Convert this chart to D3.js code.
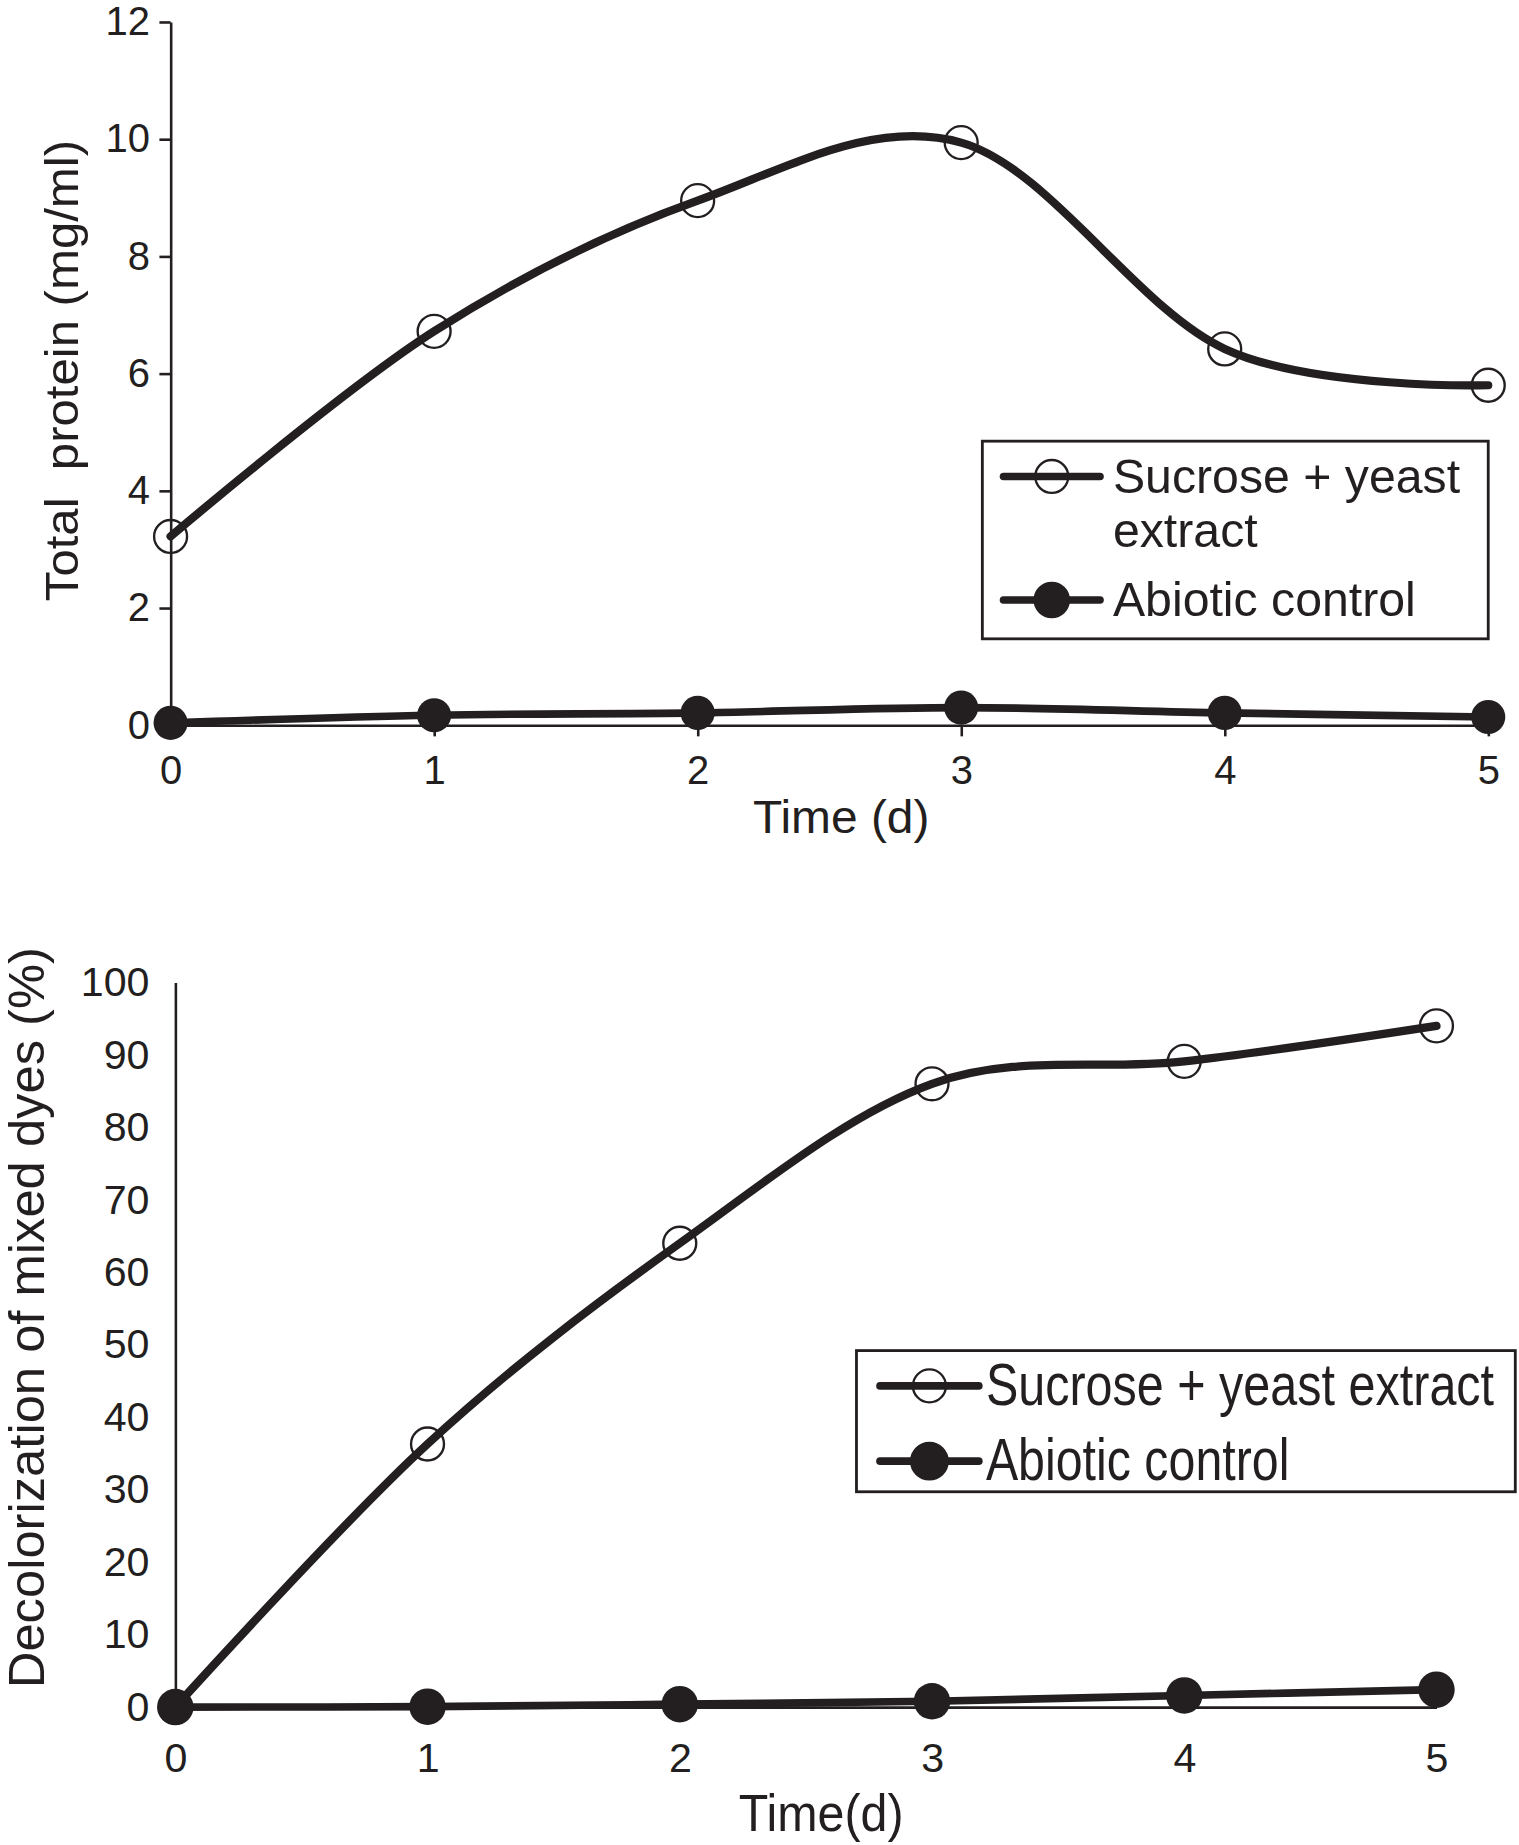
<!DOCTYPE html>
<html>
<head>
<meta charset="utf-8">
<script src="https://cdn.jsdelivr.net/npm/d3@7"></script>
<style>
  body { margin: 0; background: #fff; }
  svg { display: block; }
  text { fill: #231f20; }
</style>
</head>
<body>
<div id="chart"></div>
<script>

// data
var days = [0, 1, 2, 3, 4, 5];
var proteinSucrose = [3.22, 6.72, 8.95, 9.94, 6.42, 5.80];
var proteinAbiotic = [0.04, 0.17, 0.21, 0.30, 0.21, 0.14];
var decolSucrose = [0, 36.3, 64.0, 86.0, 89.1, 94.0];
var decolAbiotic = [0, 0.05, 0.4, 0.8, 1.6, 2.4];
var proteinTicks = [0, 2, 4, 6, 8, 10, 12];
var decolTicks = [0, 10, 20, 30, 40, 50, 60, 70, 80, 90, 100];
var seriesNames = ["Sucrose + yeast extract", "Abiotic control"];

var width = 1519;
var height = 1845;
var ink = "#231f20";
var font = "'Liberation Sans', Arial, Helvetica, sans-serif";

// drawn in the 0.85-scaled space of the source figure
var svg = d3.select("#chart")
    .append("svg")
        .attr("width", width)
        .attr("height", height)
        .attr("viewBox", "0 0 " + (width * 0.85) + " " + (height * 0.85))
        .style("font-family", font)
        ;

var smooth = d3.curveCardinal.tension(0);

// condensed text: squeeze a regular face horizontally to a target width
function squeezed(parent, str, x, y, size, target, anchor) {
    var g = parent.append("g");
    var t = g.append("text")
        .style("font-size", size + "px")
        .attr("text-anchor", anchor || "start")
        .text(str);
    var k = target / t.node().getComputedTextLength();
    g.attr("transform", "translate(" + x + "," + y + ") scale(" + k + ",1)");
    return g;
}

function drawPanel(g, opt) {
    var x = d3.scaleLinear().domain([0, 5]).range([opt.x0, opt.x1]);
    var y = d3.scaleLinear().domain(opt.yDomain).range([opt.yBottom, opt.yTop]);

    var xAxis = d3.axisBottom(x)
        .tickValues(days)
        .tickFormat(d3.format("d"))
        .tickSize(opt.tick)
        .tickSizeOuter(0)
        .tickPadding(opt.xPad);

    var yAxis = d3.axisLeft(y)
        .tickValues(opt.yTicks)
        .tickFormat(d3.format("d"))
        .tickSize(opt.tick)
        .tickSizeOuter(0)
        .tickPadding(opt.yPad);

    var gx = g.append("g")
        .attr("transform", "translate(0," + opt.yBottom + ")")
        .call(xAxis);
    var gy = g.append("g")
        .attr("transform", "translate(" + opt.x0 + ",0)")
        .call(yAxis);

    [gx, gy].forEach(function(a) {
        a.select(".domain").attr("stroke", ink).attr("stroke-width", 2.2);
        a.selectAll(".tick line").attr("stroke", ink).attr("stroke-width", 2.2);
        a.selectAll(".tick text")
            .attr("fill", ink)
            .style("font-family", font)
            .style("font-size", opt.tickFont + "px");
    });

    // axis titles
    if (opt.xTitleNarrow) {
        squeezed(g, opt.xTitle, opt.xTitleX, opt.xTitleY, opt.titleFont, opt.xTitleLen, "middle");
    } else {
        g.append("text")
            .attr("x", opt.xTitleX)
            .attr("y", opt.xTitleY)
            .attr("text-anchor", "middle")
            .style("font-size", opt.titleFont + "px")
            .attr("textLength", opt.xTitleLen)
            .attr("lengthAdjust", "spacingAndGlyphs")
            .text(opt.xTitle);
    }

    g.append("text")
        .attr("transform", "translate(" + opt.yTitleX + "," + opt.yTitleY + ") rotate(-90)")
        .attr("text-anchor", "middle")
        .style("font-size", opt.yTitleFont + "px")
        .attr("textLength", opt.yTitleLen)
        .attr("lengthAdjust", "spacingAndGlyphs")
        .text(opt.yTitle);

    var line = d3.line()
        .x(function(d, i) { return x(days[i]); })
        .y(function(d) { return y(d); })
        .curve(smooth);

    // abiotic control
    g.append("path")
        .datum(opt.abiotic)
        .attr("fill", "none")
        .attr("stroke", ink)
        .attr("stroke-width", 6.5)
        .attr("stroke-linejoin", "round")
        .attr("d", line);

    g.selectAll("circle.abiotic")
        .data(opt.abiotic)
      .enter().append("circle")
        .attr("class", "abiotic")
        .attr("cx", function(d, i) { return x(days[i]); })
        .attr("cy", function(d) { return y(d); })
        .attr("r", opt.rFill)
        .attr("fill", ink);

    // sucrose + yeast extract
    g.append("path")
        .datum(opt.sucrose)
        .attr("fill", "none")
        .attr("stroke", ink)
        .attr("stroke-width", 7)
        .attr("stroke-linecap", "round")
        .attr("d", line);

    g.selectAll("circle.sucrose")
        .data(opt.sucrose)
      .enter().append("circle")
        .attr("class", "sucrose")
        .attr("cx", function(d, i) { return x(days[i]); })
        .attr("cy", function(d) { return y(d); })
        .attr("r", opt.rOpen)
        .attr("fill", "none")
        .attr("stroke", ink)
        .attr("stroke-width", 2);

    // legend
    var lg = g.append("g");
    lg.append("rect")
        .attr("x", opt.legend.x)
        .attr("y", opt.legend.y)
        .attr("width", opt.legend.w)
        .attr("height", opt.legend.h)
        .attr("fill", "#fff")
        .attr("stroke", ink)
        .attr("stroke-width", 2.4);

    seriesNames.forEach(function(name, i) {
        var ly = opt.legend.rows[i];
        var lx0 = opt.legend.x + opt.legend.lineIn;
        var lx1 = lx0 + opt.legend.lineLen;
        lg.append("line")
            .attr("x1", lx0).attr("x2", lx1)
            .attr("y1", ly).attr("y2", ly)
            .attr("stroke", ink)
            .attr("stroke-width", 6.5)
            .attr("stroke-linecap", "round");
        lg.append("circle")
            .attr("cx", (lx0 + lx1) / 2)
            .attr("cy", ly)
            .attr("r", i == 0 ? opt.rOpen : opt.rFill)
            .attr("fill", i == 0 ? "none" : ink)
            .attr("stroke", ink)
            .attr("stroke-width", 2);

        var lines = opt.legend.wrap[i];
        lines.forEach(function(t, k) {
            var tx = lx1 + opt.legend.gap;
            var ty = ly + opt.legend.baseDy + k * opt.legend.lineH;
            if (opt.legend.lens) {
                squeezed(lg, t, tx, ty, opt.legend.font, opt.legend.lens[i]);
            } else {
                lg.append("text")
                    .attr("x", tx)
                    .attr("y", ty)
                    .style("font-size", opt.legend.font + "px")
                    .text(t);
            }
        });
    });
}

// top panel: total protein
drawPanel(svg.append("g"), {
    x0: 145, x1: 1265,
    yTop: 18.6, yBottom: 616.4,
    yDomain: [0, 12],
    yTicks: proteinTicks,
    sucrose: proteinSucrose,
    abiotic: proteinAbiotic,
    tick: 9.5, xPad: 16, yPad: 8,
    tickFont: 34,
    titleFont: 40, yTitleFont: 40,
    xTitle: "Time (d)", xTitleX: 715, xTitleY: 708, xTitleLen: 150, xTitleNarrow: false,
    yTitle: "Total\u00a0 protein (mg/ml)", yTitleX: 66, yTitleY: 315, yTitleLen: 392,
    rOpen: 14, rFill: 14.5,
    legend: {
        x: 835, y: 375, w: 430, h: 168,
        rows: [405, 510],
        lineIn: 18, lineLen: 82, gap: 11,
        baseDy: 14, lineH: 46,
        font: 41,
        wrap: [["Sucrose + yeast", "extract"], ["Abiotic control"]]
    }
});

// bottom panel: decolorization
drawPanel(svg.append("g"), {
    x0: 149, x1: 1221,
    yTop: 835, yBottom: 1451,
    yDomain: [0, 100],
    yTicks: decolTicks,
    sucrose: decolSucrose,
    abiotic: decolAbiotic,
    tick: 0, xPad: 30, yPad: 22,
    tickFont: 35,
    titleFont: 44, yTitleFont: 42,
    xTitle: "Time(d)", xTitleX: 698, xTitleY: 1556, xTitleLen: 140, xTitleNarrow: true,
    yTitle: "Decolorization of mixed dyes (%)", yTitleX: 37, yTitleY: 1120, yTitleLen: 630,
    rOpen: 14, rFill: 15.5,
    legend: {
        x: 728, y: 1148, w: 560, h: 120,
        rows: [1178, 1242],
        lineIn: 20, lineLen: 84, gap: 6,
        baseDy: 16, lineH: 0,
        font: 50,
        lens: [432, 258],
        wrap: [["Sucrose + yeast extract"], ["Abiotic control"]]
    }
});

</script>
</body>
</html>
